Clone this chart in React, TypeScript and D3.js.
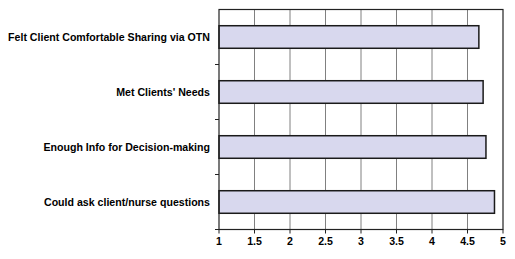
import React from "react";
import * as d3 from "d3";

const categories = [
  "Felt Client Comfortable Sharing via OTN",
  "Met Clients' Needs",
  "Enough Info for Decision-making",
  "Could ask client/nurse questions",
];
const values = [4.66, 4.72, 4.76, 4.88];
const xTicks = [1, 1.5, 2, 2.5, 3, 3.5, 4, 4.5, 5];

const W = 515;
const H = 259;
const left = 219;
const right = 503;
const top = 9.5;
const bottom = 229.5;

export default function App() {
  const x = d3.scaleLinear().domain([1, 5]).range([left, right]);
  const y = d3.scaleBand().domain(categories).range([top, bottom]).paddingInner(0.59).paddingOuter(0.295);
  const band = d3.scaleBand().domain(categories).range([top, bottom]);
  const font = "'Liberation Sans', Arial, sans-serif";
  return (
    <svg width={W} height={H} style={{ position: "absolute", left: 0, top: 0 }}>
      <rect x={0} y={0} width={W} height={H} fill="#fff" />
      {xTicks.slice(1, -1).map((t) => (
        <line key={t} x1={x(t)} x2={x(t)} y1={top} y2={bottom} stroke="#808080" strokeWidth={1} />
      ))}
      {categories.map((c, i) => (
        <rect
          key={c}
          x={x(1)}
          y={y(c)}
          width={x(values[i]) - x(1)}
          height={y.bandwidth()}
          fill="#d8d8ee"
          stroke="#1a1a1a"
          strokeWidth={1.5}
        />
      ))}
      <rect x={left} y={top} width={right - left} height={bottom - top} fill="none" stroke="#222" strokeWidth={1.2} />
      {categories.slice(1).map((c) => (
        <line key={c} x1={left - 4} x2={left} y1={band(c)} y2={band(c)} stroke="#222" strokeWidth={1} />
      ))}
      <line x1={left - 4} x2={left} y1={bottom} y2={bottom} stroke="#222" strokeWidth={1} />
      {xTicks.map((t) => (
        <line key={"t" + t} x1={x(t)} x2={x(t)} y1={bottom} y2={bottom + 4} stroke="#222" strokeWidth={1} />
      ))}
      {xTicks.map((t) => (
        <text key={"l" + t} x={x(t)} y={245} textAnchor="middle" fontFamily={font} fontWeight="bold" fontSize={10.6} fill="#000">
          {t}
        </text>
      ))}
      {categories.map((c) => (
        <text
          key={"c" + c}
          x={210}
          y={(band(c) as number) + band.bandwidth() / 2}
          dy="0.35em"
          textAnchor="end"
          fontFamily={font}
          fontWeight="bold"
          fontSize={10.6}
          fill="#000"
        >
          {c}
        </text>
      ))}
    </svg>
  );
}
